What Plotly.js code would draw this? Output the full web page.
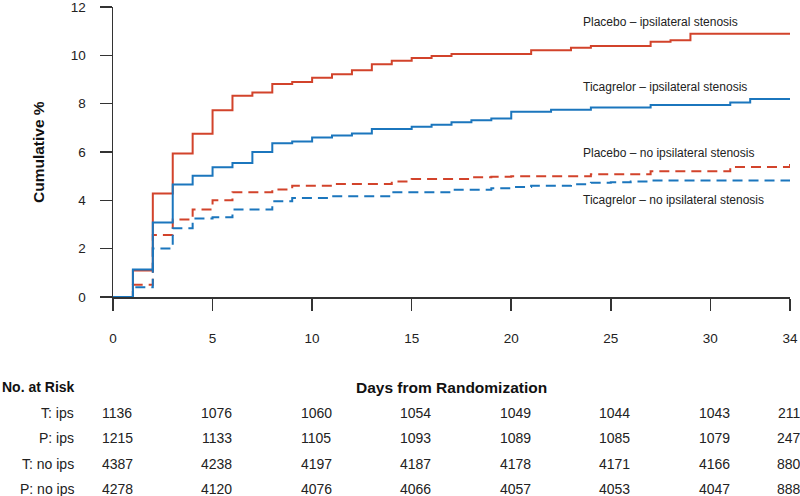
<!DOCTYPE html>
<html>
<head>
<meta charset="utf-8">
<script src="https://cdn.plot.ly/plotly-3.0.1.min.js"></script>
<style>html,body{margin:0;padding:0;background:#fff;}#chart{width:800px;height:496px;}</style>
</head>
<body>
<div id="chart"></div>
<script>
// Days from randomization (step change points)
const days = [0,1,2,3,4,5,6,7,8,9,10,11,12,13,14,15,16,17,18,19,20,21,22,23,24,25,26,27,28,29,30,31,32,33,34];

// Cumulative % by group
const placeboIps = [0,1.1,4.28,5.94,6.76,7.73,8.33,8.46,8.81,8.9,9.07,9.22,9.38,9.63,9.78,9.89,9.97,10.05,10.05,10.05,10.05,10.21,10.21,10.31,10.39,10.39,10.39,10.56,10.62,10.89,10.89,10.89,10.89,10.89,10.89];
const ticagrelorIps = [0,1.14,3.08,4.66,5.02,5.37,5.55,6.0,6.36,6.43,6.6,6.68,6.77,6.95,6.95,7.04,7.13,7.23,7.31,7.39,7.67,7.67,7.75,7.75,7.84,7.84,7.84,7.95,7.95,7.95,7.95,8.05,8.19,8.19,8.19];
const placeboNoIps = [0,0.51,2.57,3.21,3.62,4.0,4.33,4.33,4.45,4.6,4.6,4.68,4.68,4.68,4.78,4.88,4.88,4.88,4.96,4.98,5.0,5.0,5.0,5.0,5.08,5.08,5.08,5.2,5.2,5.2,5.2,5.38,5.38,5.38,5.5];
const ticagrelorNoIps = [0,0.4,2.01,2.84,3.25,3.3,3.62,3.62,3.96,4.1,4.1,4.17,4.17,4.17,4.33,4.33,4.33,4.44,4.44,4.5,4.55,4.6,4.6,4.67,4.73,4.75,4.78,4.82,4.82,4.82,4.82,4.82,4.82,4.82,4.82];

const seriesNames = ["Placebo – ipsilateral stenosis","Ticagrelor – ipsilateral stenosis","Placebo – no ipsilateral stenosis","Ticagrelor – no ipsilateral stenosis"];

// Axis ticks
const xTicks = [0,5,10,15,20,25,30,34];
const yTicks = [0,2,4,6,8,10,12];

// Number at risk table
const riskLabels = ["T: ips","P: ips","T: no ips","P: no ips"];
const riskDays = [0,5,10,15,20,25,30,34];
const riskTIps = [1136,1076,1060,1054,1049,1044,1043,211];
const riskPIps = [1215,1133,1105,1093,1089,1085,1079,247];
const riskTNoIps = [4387,4238,4197,4187,4178,4171,4166,880];
const riskPNoIps = [4278,4120,4076,4066,4057,4053,4047,888];

const RED = "#d2432b", BLUE = "#1b76bd";
const FONT = "Liberation Sans, Arial, Helvetica, sans-serif";

function stepTrace(y, color, dash, name){
  return {x: days, y: y, type: "scatter", mode: "lines", name: name,
    line: {shape: "hv", color: color, width: 2, dash: dash}, hoverinfo: "skip"};
}

const traces = [
  stepTrace(placeboNoIps, RED, "10px,6px", seriesNames[2]),
  stepTrace(placeboIps, RED, "solid", seriesNames[0]),
  stepTrace(ticagrelorNoIps, BLUE, "10px,6px", seriesNames[3]),
  stepTrace(ticagrelorIps, BLUE, "solid", seriesNames[1])
];

// plot area geometry (pixels) for paper-coordinate conversion
const M = {l:113, r:10, t:7, b:199};
const plotH = 496 - M.t - M.b;
function py(p){ return (496 - M.b - p) / plotH; }

const ann = [];
// curve labels
const labelY = [11.36, 8.67, 5.96, 4.0];
seriesNames.forEach((s,i)=>{
  ann.push({x: 23.5, y: labelY[i], xref: "x", yref: "y", text: s, showarrow: false,
    xanchor: "left", yanchor: "middle", font: {family: FONT, size: 12, color: "#222"}});
});
// y axis title
ann.push({xref: "paper", yref: "paper", x: 0, y: 0.5, xshift: -75, text: "<b>Cumulative %</b>",
  textangle: -90, showarrow: false, xanchor: "center", yanchor: "middle",
  font: {family: FONT, size: 15.5, color: "#111"}});
// x axis title
ann.push({xref: "paper", yref: "paper", x: 0.5, y: py(387), text: "<b>Days from Randomization</b>",
  showarrow: false, xanchor: "center", yanchor: "middle", font: {family: FONT, size: 15.5, color: "#111"}});
ann.push({xref: "paper", yref: "paper", x: 0, xshift: -113, y: py(387), text: "<b>No. at Risk</b>",
  showarrow: false, xanchor: "left", yanchor: "middle", font: {family: FONT, size: 14, color: "#111"}});
const riskRows = [riskTIps, riskPIps, riskTNoIps, riskPNoIps];
const rowY = [412.7, 438.3, 463.7, 488.7];
const colShift = [4,4,4,4,4,4,4,-1];
riskRows.forEach((row, r)=>{
  ann.push({xref: "paper", yref: "paper", x: 0, xshift: -37, y: py(rowY[r]), text: riskLabels[r],
    showarrow: false, xanchor: "right", yanchor: "middle", font: {family: FONT, size: 14, color: "#222"}});
  row.forEach((v, k)=>{
    ann.push({xref: "x", yref: "paper", x: riskDays[k], xshift: colShift[k], y: py(rowY[r]), text: String(v),
      showarrow: false, xanchor: "center", yanchor: "middle", font: {family: FONT, size: 14, color: "#222"}});
  });
});

const layout = {
  width: 800, height: 496, margin: M, showlegend: false,
  paper_bgcolor: "#fff", plot_bgcolor: "#fff",
  font: {family: FONT, color: "#222"},
  xaxis: {range: [0, 34], tickvals: xTicks, ticktext: xTicks.map(String), showgrid: false, zeroline: false,
    showline: true, linecolor: "#333", linewidth: 1.5, ticks: "outside", ticklen: 12, tickwidth: 1.5,
    tickcolor: "#333", ticklabelstandoff: 16, ticklabeloverflow: "allow",
    tickfont: {family: FONT, size: 13.5, color: "#222"}, fixedrange: true},
  yaxis: {range: [0, 12], tickvals: yTicks, ticktext: yTicks.map(String), showgrid: false, zeroline: false,
    showline: true, linecolor: "#333", linewidth: 1.5, ticks: "outside", ticklen: 12, tickwidth: 1.5,
    tickcolor: "#333", ticklabelstandoff: 11, ticklabeloverflow: "allow",
    tickfont: {family: FONT, size: 13.5, color: "#222"}, fixedrange: true},
  annotations: ann
};

Plotly.newPlot("chart", traces, layout, {staticPlot: true, displayModeBar: false});
</script>
</body>
</html>
